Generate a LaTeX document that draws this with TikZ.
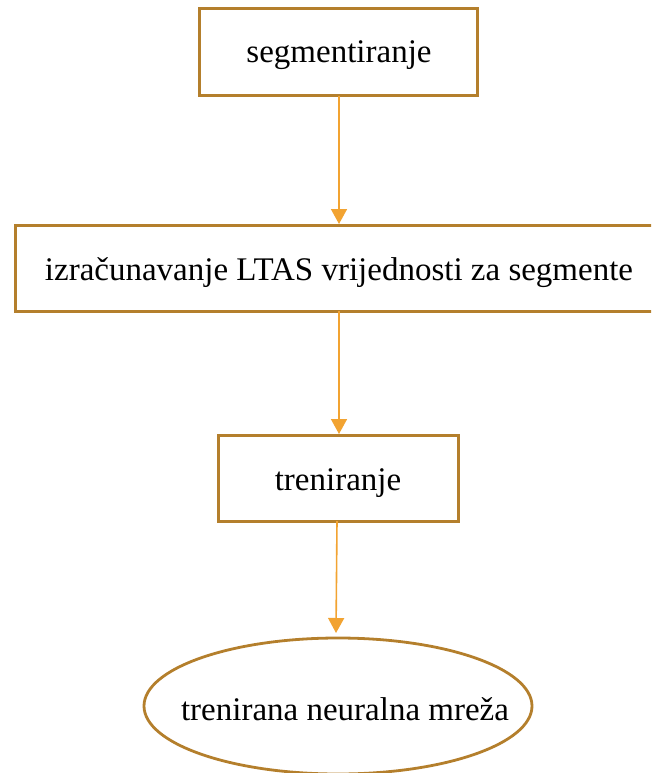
\documentclass[tikz,border=0pt]{standalone}
\usepackage{fontspec}
\setmainfont{Liberation Serif}
\usetikzlibrary{arrows.meta}
\definecolor{boxc}{HTML}{B47F2C}
\definecolor{arrc}{HTML}{F2A331}
\tikzset{
  stepbox/.style={draw=boxc, line width=3pt, inner sep=0pt},
  flowarrow/.style={draw=arrc, line width=1.6pt, -{Triangle[width=16pt,length=15pt]}},
  lbl/.style={font=\fontsize{33}{40}\selectfont, text=black}
}
\begin{document}
\begin{tikzpicture}[x=1pt,y=-1pt]
\useasboundingbox (0,0) rectangle (651,773);
\begin{scope}
\clip (0,0) rectangle (651,773);
\draw[stepbox] (199,9) rectangle (477,96);
\node[lbl] (t1) at (339,55) {segmentiranje};
\coordinate (b1s) at (339,96);
\draw[stepbox] (15,225) rectangle (656,311);
\node[lbl] (t2) at (339,273) {izračunavanje LTAS vrijednosti za segmente};
\coordinate (b2n) at (339,224);
\coordinate (b2s) at (339,311);
\draw[stepbox] (218,435) rectangle (458,521);
\node[lbl] (t3) at (338,483) {treniranje};
\coordinate (b3n) at (339,434);
\coordinate (b3s) at (337,521);
\draw[draw=boxc, line width=2.8pt] (338,706) ellipse [x radius=194, y radius=68];
\node[lbl] (t4) at (345,709) {trenirana neuralna mreža};
\coordinate (e4n) at (336,633);
\draw[flowarrow] (b1s) -- (b2n);
\draw[flowarrow] (b2s) -- (b3n);
\draw[flowarrow] (b3s) -- (e4n);
\end{scope}
\end{tikzpicture}
\end{document}
